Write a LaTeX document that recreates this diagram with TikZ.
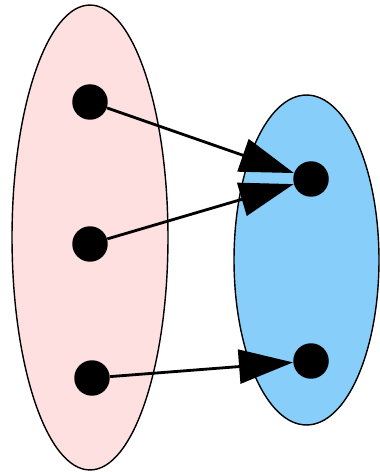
\documentclass[tikz,border=0pt]{standalone}
\usepackage{xcolor}
\usepackage{tikz}
\usetikzlibrary{shapes.geometric, arrows.meta}
\definecolor{domfill}{HTML}{FFE0E0}
\definecolor{codfill}{HTML}{87CEFA}
\tikzset{
  set/.style={ellipse, draw=black, line width=0.8pt, inner sep=0pt},
  dom/.style={set, fill=domfill, minimum width=3.12cm, minimum height=9.3cm},
  cod/.style={set, fill=codfill, minimum width=2.9cm, minimum height=6.6cm},
  elem/.style={circle, fill=black, inner sep=0pt, minimum size=0.71cm},
  maps/.style={-{Triangle[length=1.08cm, width=0.68cm]}, line width=1.6pt},
}
\begin{document}
\begin{tikzpicture}[x=0.02cm, y=-0.02cm]
  \useasboundingbox (0,0) rectangle (379,472);
  \node[dom] (A) at (90,237.5) {};
  \node[cod] (B) at (306.5,260) {};
  \node[elem] (a1) at (90,102) {};
  \node[elem] (a2) at (90,244) {};
  \node[elem] (a3) at (92,378) {};
  \node[elem] (b1) at (311,179) {};
  \node[elem] (b2) at (311,361) {};
  \draw[maps] (a1) -- (b1);
  \draw[maps] (a2) -- (b1);
  \draw[maps] (a3) -- (b2);
\end{tikzpicture}
\end{document}
